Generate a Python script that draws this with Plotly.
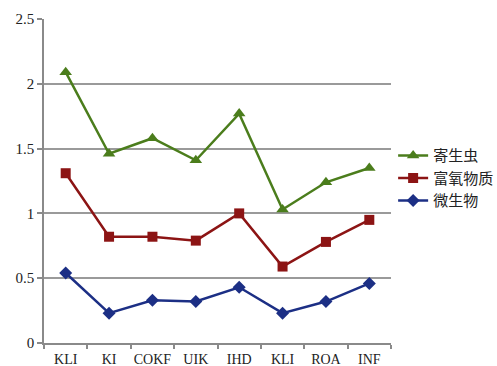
import plotly.graph_objects as go

# Categories along the x axis (note: "KLI" appears twice)
categories = ["KLI", "KI", "COKF", "UIK", "IHD", "KLI", "ROA", "INF"]

# Series values
parasites = [2.09, 1.46, 1.58, 1.41, 1.77, 1.03, 1.24, 1.35]      # 寄生虫
oxygen_rich = [1.31, 0.82, 0.82, 0.79, 1.00, 0.59, 0.78, 0.95]   # 富氧物质
microbes = [0.54, 0.23, 0.33, 0.32, 0.43, 0.23, 0.32, 0.46]      # 微生物

y_ticks = [0, 0.5, 1, 1.5, 2, 2.5]
y_tick_text = ["0", "0.5", "1", "1.5", "2", "2.5"]

x_pos = list(range(len(categories)))

series = [
    ("寄生虫", parasites, "#4B7D1C", "triangle-up", 11),
    ("富氧物质", oxygen_rich, "#8C1414", "square", 10),
    ("微生物", microbes, "#1C2F85", "diamond", 10),
]

fig = go.Figure()
for name, vals, color, symbol, size in series:
    fig.add_trace(go.Scatter(
        x=x_pos, y=vals, name=name, mode="lines+markers",
        line=dict(color=color, width=2.5),
        marker=dict(symbol=symbol, size=size, color=color),
    ))

axis_grey = "#8a8a8a"
tick_font = dict(family="Liberation Serif, DejaVu Serif, serif", size=15, color="#222")

fig.update_layout(
    width=497, height=366,
    margin=dict(l=44, r=106, t=19, b=23),
    paper_bgcolor="white", plot_bgcolor="white",
    showlegend=True,
    legend=dict(
        xref="container", yref="container",
        x=0.791, y=0.513, xanchor="left", yanchor="middle",
        font=dict(family="Noto Sans CJK SC", size=15, color="#222"),
        itemwidth=30, tracegroupgap=0, bgcolor="rgba(0,0,0,0)",
    ),
    xaxis=dict(
        range=[-0.5, len(categories) - 0.5], automargin=False,
        tickmode="array", tickvals=x_pos, ticktext=categories,
        ticks="", showgrid=False, zeroline=False,
        showline=True, linecolor=axis_grey, linewidth=1.5,
        tickfont=dict(tick_font, size=14), ticklabelstandoff=2,
        minor=dict(tick0=-0.5, dtick=1, ticks="outside", ticklen=4,
                   tickcolor=axis_grey, tickwidth=1.5, showgrid=False),
    ),
    yaxis=dict(
        range=[0, 2.5], automargin=False,
        tickmode="array", tickvals=y_ticks, ticktext=y_tick_text,
        ticks="outside", ticklen=5, tickcolor=axis_grey, tickwidth=1.5,
        showgrid=True, gridcolor="#9a9a9a", gridwidth=1.5,
        zeroline=False, showline=True, linecolor=axis_grey, linewidth=1.5,
        tickfont=tick_font,
    ),
)

fig.write_html("out.html")
